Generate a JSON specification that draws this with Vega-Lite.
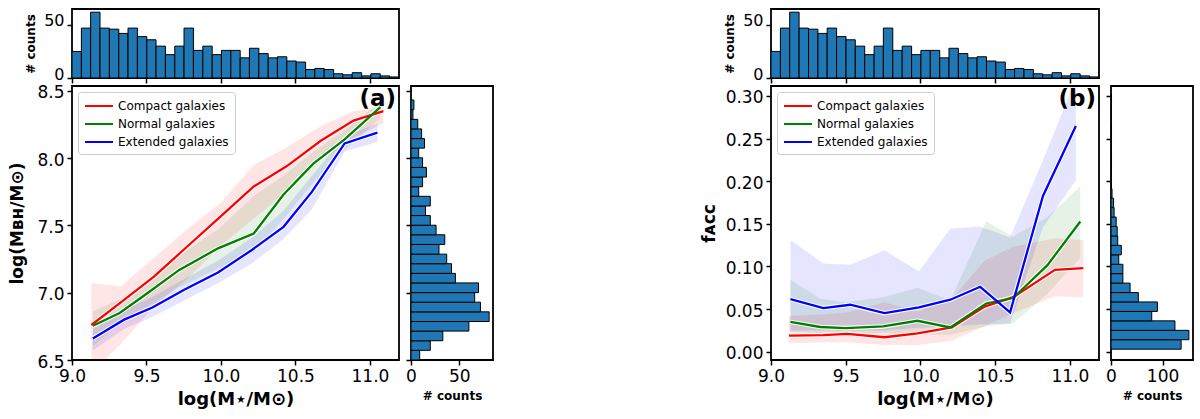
{
  "$schema": "https://vega.github.io/schema/vega-lite/v6.json",
  "padding": {"left": 8, "top": 8, "right": 5, "bottom": 5},
  "background": "white",
  "datasets": {
    "histx": [
      {"x0": 9.000, "x1": 9.063, "count": 25}, {"x0": 9.063, "x1": 9.125, "count": 47},
      {"x0": 9.125, "x1": 9.188, "count": 62}, {"x0": 9.188, "x1": 9.251, "count": 47},
      {"x0": 9.251, "x1": 9.314, "count": 46}, {"x0": 9.314, "x1": 9.376, "count": 42},
      {"x0": 9.376, "x1": 9.439, "count": 47}, {"x0": 9.439, "x1": 9.502, "count": 39},
      {"x0": 9.502, "x1": 9.564, "count": 36}, {"x0": 9.564, "x1": 9.627, "count": 30},
      {"x0": 9.627, "x1": 9.690, "count": 22}, {"x0": 9.690, "x1": 9.752, "count": 30},
      {"x0": 9.752, "x1": 9.815, "count": 47}, {"x0": 9.815, "x1": 9.878, "count": 26},
      {"x0": 9.878, "x1": 9.941, "count": 30}, {"x0": 9.941, "x1": 10.003, "count": 22},
      {"x0": 10.003, "x1": 10.066, "count": 26}, {"x0": 10.066, "x1": 10.129, "count": 26},
      {"x0": 10.129, "x1": 10.191, "count": 19}, {"x0": 10.191, "x1": 10.254, "count": 28},
      {"x0": 10.254, "x1": 10.317, "count": 23}, {"x0": 10.317, "x1": 10.379, "count": 19},
      {"x0": 10.379, "x1": 10.442, "count": 20}, {"x0": 10.442, "x1": 10.505, "count": 16},
      {"x0": 10.505, "x1": 10.568, "count": 15}, {"x0": 10.568, "x1": 10.630, "count": 8},
      {"x0": 10.630, "x1": 10.693, "count": 9}, {"x0": 10.693, "x1": 10.756, "count": 8},
      {"x0": 10.756, "x1": 10.818, "count": 4}, {"x0": 10.818, "x1": 10.881, "count": 3},
      {"x0": 10.881, "x1": 10.944, "count": 5}, {"x0": 10.944, "x1": 11.006, "count": 2},
      {"x0": 11.006, "x1": 11.069, "count": 4}, {"x0": 11.069, "x1": 11.132, "count": 2},
      {"x0": 11.132, "x1": 11.195, "count": 1}
    ],
    "histya": [
      {"y0": 6.500, "y1": 6.572, "count": 9}, {"y0": 6.572, "y1": 6.643, "count": 20},
      {"y0": 6.643, "y1": 6.715, "count": 33}, {"y0": 6.715, "y1": 6.786, "count": 60},
      {"y0": 6.786, "y1": 6.858, "count": 81}, {"y0": 6.858, "y1": 6.930, "count": 72},
      {"y0": 6.930, "y1": 7.001, "count": 66}, {"y0": 7.001, "y1": 7.073, "count": 70},
      {"y0": 7.073, "y1": 7.144, "count": 46}, {"y0": 7.144, "y1": 7.216, "count": 42},
      {"y0": 7.216, "y1": 7.287, "count": 37}, {"y0": 7.287, "y1": 7.359, "count": 29},
      {"y0": 7.359, "y1": 7.431, "count": 35}, {"y0": 7.431, "y1": 7.502, "count": 26},
      {"y0": 7.502, "y1": 7.574, "count": 20}, {"y0": 7.574, "y1": 7.645, "count": 15},
      {"y0": 7.645, "y1": 7.717, "count": 20}, {"y0": 7.717, "y1": 7.788, "count": 8},
      {"y0": 7.788, "y1": 7.860, "count": 12}, {"y0": 7.860, "y1": 7.932, "count": 16},
      {"y0": 7.932, "y1": 8.003, "count": 12}, {"y0": 8.003, "y1": 8.075, "count": 8},
      {"y0": 8.075, "y1": 8.146, "count": 14}, {"y0": 8.146, "y1": 8.218, "count": 11},
      {"y0": 8.218, "y1": 8.289, "count": 7}, {"y0": 8.289, "y1": 8.361, "count": 2},
      {"y0": 8.361, "y1": 8.433, "count": 3}
    ],
    "histyb": [
      {"y0": 0.0030, "y1": 0.0141, "count": 136}, {"y0": 0.0141, "y1": 0.0251, "count": 151},
      {"y0": 0.0251, "y1": 0.0362, "count": 124}, {"y0": 0.0362, "y1": 0.0473, "count": 79},
      {"y0": 0.0473, "y1": 0.0584, "count": 90}, {"y0": 0.0584, "y1": 0.0694, "count": 53},
      {"y0": 0.0694, "y1": 0.0805, "count": 37}, {"y0": 0.0805, "y1": 0.0916, "count": 23},
      {"y0": 0.0916, "y1": 0.1026, "count": 23}, {"y0": 0.1026, "y1": 0.1137, "count": 15},
      {"y0": 0.1137, "y1": 0.1248, "count": 20}, {"y0": 0.1248, "y1": 0.1358, "count": 13},
      {"y0": 0.1358, "y1": 0.1469, "count": 12}, {"y0": 0.1469, "y1": 0.1580, "count": 10},
      {"y0": 0.1580, "y1": 0.1691, "count": 6}, {"y0": 0.1691, "y1": 0.1801, "count": 5},
      {"y0": 0.1801, "y1": 0.1912, "count": 2}, {"y0": 0.1912, "y1": 0.2023, "count": 1},
      {"y0": 0.2023, "y1": 0.2133, "count": 0}, {"y0": 0.2133, "y1": 0.2244, "count": 1},
      {"y0": 0.2244, "y1": 0.2355, "count": 1}, {"y0": 0.2355, "y1": 0.2465, "count": 0},
      {"y0": 0.2465, "y1": 0.2576, "count": 1}, {"y0": 0.2576, "y1": 0.2687, "count": 1},
      {"y0": 0.2687, "y1": 0.2798, "count": 0}, {"y0": 0.2798, "y1": 0.2908, "count": 0},
      {"y0": 0.2908, "y1": 0.3019, "count": 1}
    ],
    "linesa": [
      {"group": "Compact galaxies", "x": 9.13, "y": 6.76, "lo": 6.40, "hi": 7.07},
      {"group": "Compact galaxies", "x": 9.33, "y": 6.93, "lo": 6.62, "hi": 7.05},
      {"group": "Compact galaxies", "x": 9.55, "y": 7.12, "lo": 6.90, "hi": 7.26},
      {"group": "Compact galaxies", "x": 9.77, "y": 7.34, "lo": 7.10, "hi": 7.47},
      {"group": "Compact galaxies", "x": 10.00, "y": 7.57, "lo": 7.35, "hi": 7.67},
      {"group": "Compact galaxies", "x": 10.22, "y": 7.79, "lo": 7.55, "hi": 7.95},
      {"group": "Compact galaxies", "x": 10.44, "y": 7.94, "lo": 7.75, "hi": 8.08},
      {"group": "Compact galaxies", "x": 10.67, "y": 8.13, "lo": 7.98, "hi": 8.24},
      {"group": "Compact galaxies", "x": 10.89, "y": 8.28, "lo": 8.15, "hi": 8.35},
      {"group": "Compact galaxies", "x": 11.09, "y": 8.35, "lo": 8.26, "hi": 8.38},
      {"group": "Normal galaxies", "x": 9.14, "y": 6.755, "lo": 6.60, "hi": 6.86},
      {"group": "Normal galaxies", "x": 9.32, "y": 6.85, "lo": 6.78, "hi": 6.95},
      {"group": "Normal galaxies", "x": 9.51, "y": 7.00, "lo": 6.90, "hi": 7.10},
      {"group": "Normal galaxies", "x": 9.72, "y": 7.17, "lo": 7.04, "hi": 7.28},
      {"group": "Normal galaxies", "x": 9.98, "y": 7.33, "lo": 7.18, "hi": 7.47},
      {"group": "Normal galaxies", "x": 10.22, "y": 7.44, "lo": 7.30, "hi": 7.72},
      {"group": "Normal galaxies", "x": 10.42, "y": 7.73, "lo": 7.55, "hi": 7.87},
      {"group": "Normal galaxies", "x": 10.62, "y": 7.96, "lo": 7.82, "hi": 8.05},
      {"group": "Normal galaxies", "x": 10.83, "y": 8.14, "lo": 8.06, "hi": 8.21},
      {"group": "Normal galaxies", "x": 11.07, "y": 8.38, "lo": 8.30, "hi": 8.42},
      {"group": "Extended galaxies", "x": 9.14, "y": 6.66, "lo": 6.57, "hi": 6.73},
      {"group": "Extended galaxies", "x": 9.35, "y": 6.80, "lo": 6.73, "hi": 6.87},
      {"group": "Extended galaxies", "x": 9.54, "y": 6.89, "lo": 6.82, "hi": 6.97},
      {"group": "Extended galaxies", "x": 9.75, "y": 7.02, "lo": 6.94, "hi": 7.10},
      {"group": "Extended galaxies", "x": 9.98, "y": 7.15, "lo": 7.07, "hi": 7.24},
      {"group": "Extended galaxies", "x": 10.21, "y": 7.32, "lo": 7.22, "hi": 7.41},
      {"group": "Extended galaxies", "x": 10.42, "y": 7.49, "lo": 7.40, "hi": 7.61},
      {"group": "Extended galaxies", "x": 10.61, "y": 7.75, "lo": 7.62, "hi": 7.87},
      {"group": "Extended galaxies", "x": 10.83, "y": 8.11, "lo": 8.05, "hi": 8.16},
      {"group": "Extended galaxies", "x": 11.05, "y": 8.19, "lo": 8.12, "hi": 8.26}
    ],
    "linesb": [
      {"group": "Compact galaxies", "x": 9.12, "y": 0.019, "lo": 0.010, "hi": 0.042},
      {"group": "Compact galaxies", "x": 9.35, "y": 0.0195, "lo": 0.011, "hi": 0.044},
      {"group": "Compact galaxies", "x": 9.51, "y": 0.021, "lo": 0.011, "hi": 0.046},
      {"group": "Compact galaxies", "x": 9.76, "y": 0.017, "lo": 0.008, "hi": 0.058},
      {"group": "Compact galaxies", "x": 9.98, "y": 0.0215, "lo": 0.008, "hi": 0.047},
      {"group": "Compact galaxies", "x": 10.21, "y": 0.0285, "lo": 0.013, "hi": 0.062},
      {"group": "Compact galaxies", "x": 10.43, "y": 0.053, "lo": 0.030, "hi": 0.107},
      {"group": "Compact galaxies", "x": 10.62, "y": 0.064, "lo": 0.045, "hi": 0.123},
      {"group": "Compact galaxies", "x": 10.90, "y": 0.096, "lo": 0.065, "hi": 0.133},
      {"group": "Compact galaxies", "x": 11.09, "y": 0.098, "lo": 0.064, "hi": 0.131},
      {"group": "Normal galaxies", "x": 9.13, "y": 0.035, "lo": 0.023, "hi": 0.084},
      {"group": "Normal galaxies", "x": 9.33, "y": 0.029, "lo": 0.022, "hi": 0.062},
      {"group": "Normal galaxies", "x": 9.50, "y": 0.0277, "lo": 0.020, "hi": 0.058},
      {"group": "Normal galaxies", "x": 9.75, "y": 0.0297, "lo": 0.022, "hi": 0.064},
      {"group": "Normal galaxies", "x": 9.98, "y": 0.0363, "lo": 0.020, "hi": 0.075},
      {"group": "Normal galaxies", "x": 10.20, "y": 0.0285, "lo": 0.020, "hi": 0.060},
      {"group": "Normal galaxies", "x": 10.44, "y": 0.0566, "lo": 0.030, "hi": 0.153},
      {"group": "Normal galaxies", "x": 10.62, "y": 0.063, "lo": 0.033, "hi": 0.135},
      {"group": "Normal galaxies", "x": 10.85, "y": 0.1016, "lo": 0.068, "hi": 0.158},
      {"group": "Normal galaxies", "x": 11.07, "y": 0.1527, "lo": 0.110, "hi": 0.194},
      {"group": "Extended galaxies", "x": 9.13, "y": 0.0617, "lo": 0.025, "hi": 0.131},
      {"group": "Extended galaxies", "x": 9.35, "y": 0.0512, "lo": 0.025, "hi": 0.1035},
      {"group": "Extended galaxies", "x": 9.53, "y": 0.0551, "lo": 0.025, "hi": 0.102},
      {"group": "Extended galaxies", "x": 9.76, "y": 0.0453, "lo": 0.025, "hi": 0.119},
      {"group": "Extended galaxies", "x": 9.99, "y": 0.052, "lo": 0.028, "hi": 0.094},
      {"group": "Extended galaxies", "x": 10.20, "y": 0.061, "lo": 0.030, "hi": 0.1445},
      {"group": "Extended galaxies", "x": 10.40, "y": 0.0762, "lo": 0.032, "hi": 0.147},
      {"group": "Extended galaxies", "x": 10.60, "y": 0.0461, "lo": 0.033, "hi": 0.134},
      {"group": "Extended galaxies", "x": 10.82, "y": 0.1828, "lo": 0.146, "hi": 0.225},
      {"group": "Extended galaxies", "x": 11.04, "y": 0.2648, "lo": 0.201, "hi": 0.320}
    ]
  },
  "columns": 5,
  "align": "each",
  "bounds": "flush",
  "spacing": {"row": 8, "column": 12},
  "concat": [
    {
      "width": 327, "height": 69,
      "data": {"name": "histx"},
      "mark": {"type": "rect", "fill": "#1f77b4", "stroke": "black", "strokeWidth": 1, "clip": true},
      "encoding": {
        "x": {"field": "x0", "type": "quantitative", "scale": {"domain": [9.0, 11.195], "nice": false, "zero": false}, "axis": {"values": [9, 9.5, 10, 10.5, 11], "labels": false, "title": null}},
        "x2": {"field": "x1"},
        "y": {"field": "count", "type": "quantitative", "scale": {"domain": [0, 65], "nice": false}, "axis": {"values": [0, 50], "labelOffset": -4, "labelFontSize": 16, "title": "# counts", "titleFontSize": 12, "titlePadding": 6}},
        "y2": {"datum": 0}
      }
    },
    {
      "width": 82, "height": 69, "view": {"stroke": null},
      "data": {"values": [{"blank": 0}]},
      "mark": {"type": "point", "opacity": 0},
      "encoding": {}
    },
    {
      "width": 254, "height": 69, "view": {"stroke": null},
      "data": {"values": [{"blank": 0}]},
      "mark": {"type": "point", "opacity": 0},
      "encoding": {}
    },
    {
      "width": 328, "height": 69,
      "data": {"name": "histx"},
      "mark": {"type": "rect", "fill": "#1f77b4", "stroke": "black", "strokeWidth": 1, "clip": true},
      "encoding": {
        "x": {"field": "x0", "type": "quantitative", "scale": {"domain": [9.0, 11.195], "nice": false, "zero": false}, "axis": {"values": [9, 9.5, 10, 10.5, 11], "labels": false, "title": null}},
        "x2": {"field": "x1"},
        "y": {"field": "count", "type": "quantitative", "scale": {"domain": [0, 65], "nice": false}, "axis": {"values": [0, 50], "labelOffset": -4, "labelFontSize": 16, "title": "# counts", "titleFontSize": 12, "titlePadding": 6}},
        "y2": {"datum": 0}
      }
    },
    {
      "width": 82, "height": 69, "view": {"stroke": null},
      "data": {"values": [{"blank": 0}]},
      "mark": {"type": "point", "opacity": 0},
      "encoding": {}
    },
    {
      "width": 327, "height": 274,
      "layer": [
        {
          "data": {"name": "linesa"},
          "mark": {"type": "area", "fillOpacity": 0.1, "clip": true},
          "encoding": {
            "x": {"field": "x", "type": "quantitative", "title": "log(M⋆/M⊙)", "scale": {"domain": [9.0, 11.195], "nice": false, "zero": false}, "axis": {"values": [9, 9.5, 10, 10.5, 11], "format": ".1f", "titleFontSize": 18, "titlePadding": 6}},
            "y": {"field": "lo", "type": "quantitative", "title": "log(Mʙʜ/M⊙)", "scale": {"domain": [6.5, 8.537], "nice": false, "zero": false}, "axis": {"values": [6.5, 7, 7.5, 8, 8.5], "format": ".1f", "labelOffset": 2, "titleFontSize": 17, "titlePadding": 10}},
            "y2": {"field": "hi"},
            "color": {"field": "group", "type": "nominal", "scale": {"domain": ["Compact galaxies", "Normal galaxies", "Extended galaxies"], "range": ["#ff0000", "#008000", "#0000ff"]}}
          }
        },
        {
          "data": {"name": "linesa"},
          "mark": {"type": "line", "stroke": "white", "strokeWidth": 4.5, "clip": true},
          "encoding": {
            "x": {"field": "x", "type": "quantitative", "title": "log(M⋆/M⊙)"},
            "y": {"field": "y", "type": "quantitative", "title": "log(Mʙʜ/M⊙)"},
            "detail": {"field": "group"}
          }
        },
        {
          "data": {"name": "linesa"},
          "mark": {"type": "line", "strokeWidth": 2.3, "clip": true},
          "encoding": {
            "x": {"field": "x", "type": "quantitative", "title": "log(M⋆/M⊙)"},
            "y": {"field": "y", "type": "quantitative", "title": "log(Mʙʜ/M⊙)"},
            "color": {"field": "group", "type": "nominal", "scale": {"domain": ["Compact galaxies", "Normal galaxies", "Extended galaxies"], "range": ["#ff0000", "#008000", "#0000ff"]},
              "legend": {"title": null, "orient": "top-left", "offset": 6, "symbolType": "M-1,0H3", "symbolSize": 196, "symbolStrokeWidth": 2, "symbolOpacity": 1, "symbolFillColor": "transparent"}}
          }
        },
        {
          "data": {"values": [{"label": "(a)"}]},
          "mark": {"type": "text", "fontSize": 23, "fontWeight": "bold", "align": "right", "baseline": "top", "dx": -3, "dy": 2},
          "encoding": {
            "text": {"field": "label"},
            "x": {"datum": 11.195, "type": "quantitative"},
            "y": {"datum": 8.537, "type": "quantitative"}
          }
        }
      ]
    },
    {
      "width": 82, "height": 274,
      "data": {"name": "histya"},
      "mark": {"type": "rect", "fill": "#1f77b4", "stroke": "black", "strokeWidth": 1, "clip": true},
      "encoding": {
        "x": {"field": "count", "type": "quantitative", "scale": {"domain": [0, 85], "nice": false}, "axis": {"values": [0, 50], "title": "# counts", "titleFontSize": 12, "titlePadding": 6}},
        "x2": {"datum": 0},
        "y": {"field": "y0", "type": "quantitative", "scale": {"domain": [6.5, 8.537], "nice": false, "zero": false}, "axis": {"values": [6.5, 7, 7.5, 8, 8.5], "labels": false, "title": null}},
        "y2": {"field": "y1"}
      }
    },
    {
      "width": 254, "height": 274, "view": {"stroke": null},
      "data": {"values": [{"blank": 0}]},
      "mark": {"type": "point", "opacity": 0},
      "encoding": {}
    },
    {
      "width": 328, "height": 274,
      "layer": [
        {
          "data": {"name": "linesb"},
          "mark": {"type": "area", "fillOpacity": 0.1, "clip": true},
          "encoding": {
            "x": {"field": "x", "type": "quantitative", "title": "log(M⋆/M⊙)", "scale": {"domain": [9.0, 11.195], "nice": false, "zero": false}, "axis": {"values": [9, 9.5, 10, 10.5, 11], "format": ".1f", "titleFontSize": 18, "titlePadding": 6}},
            "y": {"field": "lo", "type": "quantitative", "title": "fᴀᴄᴄ", "scale": {"domain": [-0.0097, 0.3117], "nice": false, "zero": false}, "axis": {"values": [0, 0.05, 0.1, 0.15, 0.2, 0.25, 0.3], "format": ".2f", "labelOffset": 2, "titleFontSize": 17, "titlePadding": 7}},
            "y2": {"field": "hi"},
            "color": {"field": "group", "type": "nominal", "scale": {"domain": ["Compact galaxies", "Normal galaxies", "Extended galaxies"], "range": ["#ff0000", "#008000", "#0000ff"]}}
          }
        },
        {
          "data": {"name": "linesb"},
          "mark": {"type": "line", "stroke": "white", "strokeWidth": 4.5, "clip": true},
          "encoding": {
            "x": {"field": "x", "type": "quantitative", "title": "log(M⋆/M⊙)"},
            "y": {"field": "y", "type": "quantitative", "title": "fᴀᴄᴄ"},
            "detail": {"field": "group"}
          }
        },
        {
          "data": {"name": "linesb"},
          "mark": {"type": "line", "strokeWidth": 2.3, "clip": true},
          "encoding": {
            "x": {"field": "x", "type": "quantitative", "title": "log(M⋆/M⊙)"},
            "y": {"field": "y", "type": "quantitative", "title": "fᴀᴄᴄ"},
            "color": {"field": "group", "type": "nominal", "scale": {"domain": ["Compact galaxies", "Normal galaxies", "Extended galaxies"], "range": ["#ff0000", "#008000", "#0000ff"]},
              "legend": {"title": null, "orient": "top-left", "offset": 6, "symbolType": "M-1,0H3", "symbolSize": 196, "symbolStrokeWidth": 2, "symbolOpacity": 1, "symbolFillColor": "transparent"}}
          }
        },
        {
          "data": {"values": [{"label": "(b)"}]},
          "mark": {"type": "text", "fontSize": 23, "fontWeight": "bold", "align": "right", "baseline": "top", "dx": -3, "dy": 2},
          "encoding": {
            "text": {"field": "label"},
            "x": {"datum": 11.195, "type": "quantitative"},
            "y": {"datum": 0.3117, "type": "quantitative"}
          }
        }
      ]
    },
    {
      "width": 82, "height": 274,
      "data": {"name": "histyb"},
      "mark": {"type": "rect", "fill": "#1f77b4", "stroke": "black", "strokeWidth": 1, "clip": true},
      "encoding": {
        "x": {"field": "count", "type": "quantitative", "scale": {"domain": [0, 159], "nice": false}, "axis": {"values": [0, 100], "title": "# counts", "titleFontSize": 12, "titlePadding": 6}},
        "x2": {"datum": 0},
        "y": {"field": "y0", "type": "quantitative", "scale": {"domain": [-0.0097, 0.3117], "nice": false, "zero": false}, "axis": {"values": [0, 0.05, 0.1, 0.15, 0.2, 0.25, 0.3], "labels": false, "title": null}},
        "y2": {"field": "y1"}
      }
    }
  ],
  "resolve": {
    "scale": {"x": "independent", "y": "independent", "color": "independent"},
    "axis": {"x": "independent", "y": "independent"},
    "legend": {"color": "independent"}
  },
  "config": {
    "font": "DejaVu Sans",
    "view": {"stroke": "black", "strokeWidth": 1.8},
    "axis": {
      "domain": false, "grid": false, "ticks": true, "labelFlush": false,
      "tickColor": "black", "tickWidth": 1.5, "tickSize": 5,
      "labelFont": "DejaVu Sans", "labelFontSize": 17, "labelColor": "black", "labelPadding": 3,
      "titleFont": "DejaVu Sans", "titleFontWeight": "bold", "titleColor": "black"
    },
    "legend": {
      "fillColor": "white", "strokeColor": "#cccccc", "cornerRadius": 3, "padding": 6,
      "labelFont": "DejaVu Sans", "labelFontSize": 12, "labelColor": "black",
      "labelOffset": 18, "rowPadding": 4
    },
    "text": {"font": "DejaVu Sans", "color": "black"}
  }
}
